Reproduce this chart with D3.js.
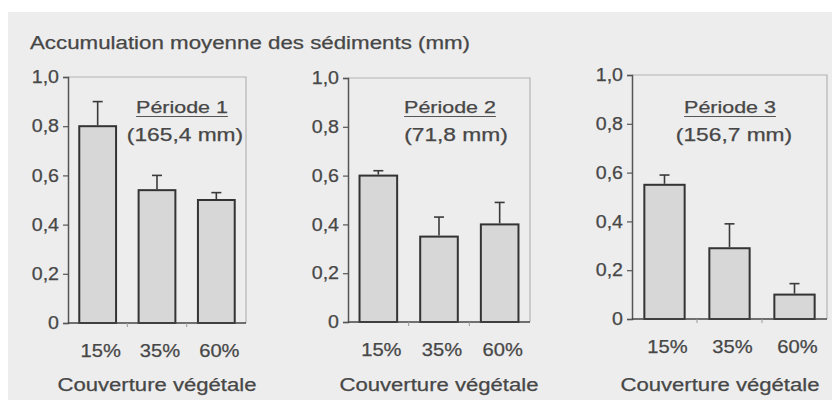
<!DOCTYPE html>
<html>
<head>
<meta charset="utf-8">
<script src="https://cdn.jsdelivr.net/npm/d3@7"></script>
<style>
  body { margin: 0; background: #ffffff; }
  svg text { font-family: "Liberation Sans", Arial, sans-serif; fill: #474747; stroke: #474747; stroke-width: 0.25px; }
</style>
</head>
<body>
<svg id="chart" width="832" height="403"></svg>
<script>
// Mean sediment accumulation (mm) by vegetation cover, three rainfall periods
const categories = ["15%", "35%", "60%"];
const periodNames = ["Période 1", "Période 2", "Période 3"];
const periodRain = ["(165,4 mm)", "(71,8 mm)", "(156,7 mm)"];
const meansP1 = [0.80, 0.54, 0.50];
const meansP2 = [0.60, 0.35, 0.40];
const meansP3 = [0.55, 0.29, 0.10];
const errorsP1 = [0.10, 0.06, 0.03];
const errorsP2 = [0.02, 0.08, 0.09];
const errorsP3 = [0.04, 0.10, 0.045];
const yTickValues = [0, 0.2, 0.4, 0.6, 0.8, 1.0];
const yTickLabels = ["0", "0,2", "0,4", "0,6", "0,8", "1,0"];
const chartTitle = "Accumulation moyenne des sédiments (mm)";
const xAxisTitle = "Couverture végétale";

const means = [meansP1, meansP2, meansP3];
const errors = [errorsP1, errorsP2, errorsP3];

// panel frames and label placement
const panels = [
  { left: 68,  right: 246, top: 77, bottom: 323, labelX: 182, rainX: 185, titleX: 157 },
  { left: 348, right: 530, top: 78, bottom: 322, labelX: 450, rainX: 456, titleX: 439 },
  { left: 632, right: 827, top: 75, bottom: 319, labelX: 730, rainX: 734, titleX: 720 }
];

const svg = d3.select("#chart");
const fontSize = 17.5;

// widen text horizontally like the original lettering
function stretch(sel, factor) {
  sel.each(function () {
    const len = this.getComputedTextLength();
    d3.select(this).attr("textLength", len * factor).attr("lengthAdjust", "spacingAndGlyphs");
  });
  return sel;
}

// grey backdrop
svg.append("rect").attr("x", 8).attr("y", 12).attr("width", 824).attr("height", 388).attr("fill", "#ededed");

svg.append("text")
  .attr("x", 30).attr("y", 49)
  .attr("font-size", fontSize)
  .text(chartTitle)
  .attr("textLength", 440).attr("lengthAdjust", "spacingAndGlyphs");

panels.forEach((p, i) => {
  const g = svg.append("g");
  const x = d3.scaleBand().domain(categories).range([p.left, p.right]).paddingInner(0.38).paddingOuter(0.19);
  const y = d3.scaleLinear().domain([0, 1]).range([p.bottom, p.top]);

  // light frame on top and right
  g.append("path")
    .attr("d", `M${p.left},${p.top}H${p.right}V${p.bottom}`)
    .attr("fill", "none").attr("stroke", "#b4b4b4").attr("stroke-width", 1.2);

  // bars
  g.selectAll("rect.bar").data(categories).join("rect")
    .attr("class", "bar")
    .attr("x", d => x(d))
    .attr("width", x.bandwidth())
    .attr("y", (d, j) => y(means[i][j]))
    .attr("height", (d, j) => y(0) - y(means[i][j]))
    .attr("fill", "#d7d7d7").attr("stroke", "#333").attr("stroke-width", 2);

  // error bars (upper half)
  const eb = g.selectAll("g.err").data(categories).join("g").attr("class", "err");
  eb.append("line")
    .attr("x1", d => x(d) + x.bandwidth() / 2).attr("x2", d => x(d) + x.bandwidth() / 2)
    .attr("y1", (d, j) => y(means[i][j]) - 1)
    .attr("y2", (d, j) => y(means[i][j] + errors[i][j]))
    .attr("stroke", "#3a3a3a").attr("stroke-width", 1.6);
  eb.append("line")
    .attr("x1", d => x(d) + x.bandwidth() / 2 - 5).attr("x2", d => x(d) + x.bandwidth() / 2 + 5)
    .attr("y1", (d, j) => y(means[i][j] + errors[i][j]))
    .attr("y2", (d, j) => y(means[i][j] + errors[i][j]))
    .attr("stroke", "#3a3a3a").attr("stroke-width", 1.6);

  // y axis
  const yAxis = d3.axisLeft(y).tickValues(yTickValues)
    .tickFormat((d, k) => yTickLabels[k]).tickSize(5).tickPadding(4);
  const ya = g.append("g").attr("transform", `translate(${p.left},0)`).call(yAxis);
  ya.select(".domain").attr("stroke", "#555").attr("stroke-width", 1.5);
  ya.selectAll(".tick line").attr("stroke", "#555").attr("stroke-width", 1.2);
  ya.selectAll(".tick text").attr("font-size", fontSize).attr("fill", null)
    .attr("font-family", null);
  stretch(ya.selectAll(".tick text"), 1.12);

  // x axis
  const xAxis = d3.axisBottom(x).tickSize(0).tickPadding(22);
  const xa = g.append("g").attr("transform", `translate(0,${p.bottom})`).call(xAxis);
  xa.select(".domain").attr("d", `M${p.left},0H${p.right}`).attr("stroke", "#444").attr("stroke-width", 1.6);
  xa.selectAll(".tick text").attr("font-size", fontSize).attr("fill", null)
    .attr("font-family", null)
    .attr("dx", 3);
  stretch(xa.selectAll(".tick text"), 1.15);

  // faint separators between categories
  [1, 2].forEach(k => {
    const sx = p.left + k * (p.right - p.left) / 3;
    g.append("line")
      .attr("x1", sx).attr("x2", sx)
      .attr("y1", p.bottom).attr("y2", p.bottom + 4)
      .attr("stroke", "#9a9a9a").attr("stroke-width", 1);
  });

  // x axis title
  g.append("text")
    .attr("x", p.titleX).attr("y", 391)
    .attr("text-anchor", "middle").attr("font-size", fontSize)
    .text(xAxisTitle)
    .attr("textLength", 199).attr("lengthAdjust", "spacingAndGlyphs");

  // period heading, underlined
  const ph = g.append("text")
    .attr("x", p.labelX).attr("y", 113)
    .attr("text-anchor", "middle").attr("font-size", 16.5)
    .text(periodNames[i]);
  stretch(ph, 1.3);
  const bb = ph.node().getBBox();
  g.append("line")
    .attr("x1", bb.x).attr("x2", bb.x + bb.width)
    .attr("y1", 116.5).attr("y2", 116.5)
    .attr("stroke", "#555").attr("stroke-width", 1);

  const pr = g.append("text")
    .attr("x", p.rainX).attr("y", 141)
    .attr("text-anchor", "middle").attr("font-size", fontSize)
    .text(periodRain[i]);
  stretch(pr, 1.3);
});
</script>
</body>
</html>
